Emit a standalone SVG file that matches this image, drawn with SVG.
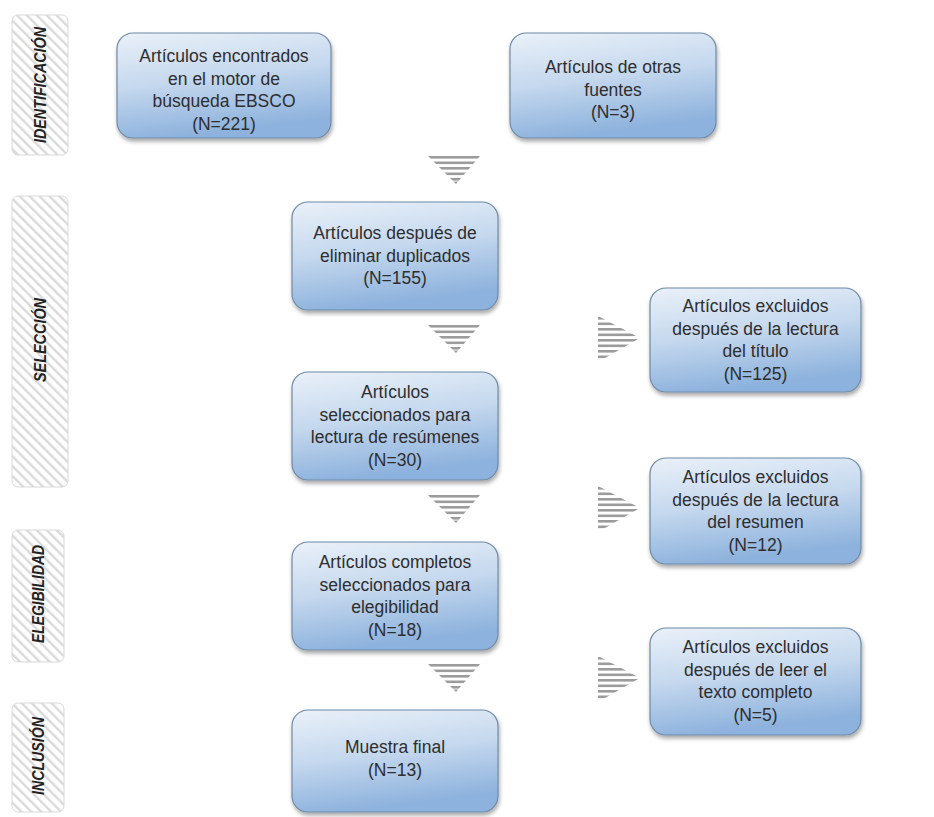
<svg xmlns="http://www.w3.org/2000/svg" width="934" height="817" viewBox="0 0 934 817">
<style>
.box{fill:url(#bg);stroke:#6f8aa6;stroke-width:1.2;filter:url(#sh)}
.t{font-family:"Liberation Sans",Arial,sans-serif;font-size:17.5px;fill:#2e2e2e;text-anchor:middle}
.side{fill:url(#hatch);stroke:#d9d9d9;stroke-width:1}
.st{font-family:"Liberation Sans Narrow","Liberation Sans",Arial,sans-serif;font-size:17px;font-weight:bold;font-style:italic;fill:#222;text-anchor:middle}
.stripe{fill:#9c9c9c}
</style>
<defs>
<linearGradient id="bg" x1="0" y1="0" x2="0.25" y2="1">
<stop offset="0" stop-color="#eaf1f9"/>
<stop offset="0.5" stop-color="#c5d8ee"/>
<stop offset="1" stop-color="#8db2dd"/>
</linearGradient>
<filter id="sh" x="-10%" y="-10%" width="125%" height="130%">
<feGaussianBlur in="SourceAlpha" stdDeviation="2"/>
<feOffset dx="1" dy="3" result="b"/>
<feComponentTransfer><feFuncA type="linear" slope="0.35"/></feComponentTransfer>
<feMerge><feMergeNode/><feMergeNode in="SourceGraphic"/></feMerge>
</filter>
<pattern id="hatch" patternUnits="userSpaceOnUse" width="7" height="7" patternTransform="rotate(-45)">
<rect width="7" height="7" fill="#ffffff"/>
<rect width="2.4" height="7" fill="#dadada"/>
</pattern>
<clipPath id="dtri"><polygon points="0,0 52,0 28,28"/></clipPath>
<clipPath id="rtri"><polygon points="0,0 42,22 0,46"/></clipPath>
<g id="down">
<g clip-path="url(#dtri)">
<rect class="stripe" x="0" y="0" width="52" height="2.6"/>
<rect class="stripe" x="0" y="5.5" width="52" height="2.6"/>
<rect class="stripe" x="0" y="11" width="52" height="2.6"/>
<rect class="stripe" x="0" y="16.5" width="52" height="2.6"/>
<rect class="stripe" x="0" y="22" width="52" height="2.6"/>
<rect class="stripe" x="0" y="25.5" width="52" height="3"/>
</g>
</g>
<g id="right">
<g clip-path="url(#rtri)">
<rect class="stripe" x="0" y="1" width="42" height="2.6"/>
<rect class="stripe" x="0" y="6.5" width="42" height="2.6"/>
<rect class="stripe" x="0" y="12" width="42" height="2.6"/>
<rect class="stripe" x="0" y="17.5" width="42" height="2.6"/>
<rect class="stripe" x="0" y="23" width="42" height="2.6"/>
<rect class="stripe" x="0" y="28.5" width="42" height="2.6"/>
<rect class="stripe" x="0" y="34" width="42" height="2.6"/>
<rect class="stripe" x="0" y="39.5" width="42" height="2.6"/>
</g>
</g>
</defs>

<g id="phases">
<g id="phase-identificacion">
<rect class="side" x="12" y="15" width="56" height="140" rx="6"/>
<text class="st" transform="translate(46,85) rotate(-90)" textLength="116" lengthAdjust="spacingAndGlyphs">IDENTIFICACIÓN</text>
</g>
<g id="phase-seleccion">
<rect class="side" x="12" y="196" width="56" height="291" rx="6"/>
<text class="st" transform="translate(46,340) rotate(-90)" textLength="84" lengthAdjust="spacingAndGlyphs">SELECCIÓN</text>
</g>
<g id="phase-elegibilidad">
<rect class="side" x="12" y="530" width="52" height="132" rx="6"/>
<text class="st" transform="translate(44,594) rotate(-90)" textLength="98" lengthAdjust="spacingAndGlyphs">ELEGIBILIDAD</text>
</g>
<g id="phase-inclusion">
<rect class="side" x="12" y="703" width="52" height="109" rx="6"/>
<text class="st" transform="translate(44,756) rotate(-90)" textLength="78" lengthAdjust="spacingAndGlyphs">INCLUSIÓN</text>
</g>
</g>

<g id="connectors">
<use href="#down" x="428" y="156"/>
<use href="#down" x="428" y="325"/>
<use href="#down" x="428" y="495"/>
<use href="#down" x="428" y="664"/>
<use href="#right" x="598" y="316"/>
<use href="#right" x="598" y="486"/>
<use href="#right" x="598" y="656"/>
</g>

<g id="n1">
<rect class="box" x="117" y="33" width="214" height="105" rx="16"/>
<text class="t" x="224"><tspan x="224" y="62">Artículos encontrados</tspan><tspan x="224" y="84.5">en el motor de</tspan><tspan x="224" y="107">búsqueda EBSCO</tspan><tspan x="224" y="129.5">(N=221)</tspan></text>
</g>
<g id="n2">
<rect class="box" x="510" y="33" width="206" height="105" rx="16"/>
<text class="t"><tspan x="613" y="73">Artículos de otras</tspan><tspan x="613" y="95.5">fuentes</tspan><tspan x="613" y="118">(N=3)</tspan></text>
</g>
<g id="n3">
<rect class="box" x="292" y="202" width="206" height="108" rx="16"/>
<text class="t"><tspan x="395" y="239">Artículos después de</tspan><tspan x="395" y="261.5">eliminar duplicados</tspan><tspan x="395" y="284">(N=155)</tspan></text>
</g>
<g id="n4">
<rect class="box" x="292" y="372" width="206" height="108" rx="16"/>
<text class="t"><tspan x="395" y="398">Artículos</tspan><tspan x="395" y="420.5">seleccionados para</tspan><tspan x="395" y="443">lectura de resúmenes</tspan><tspan x="395" y="465.5">(N=30)</tspan></text>
</g>
<g id="n5">
<rect class="box" x="292" y="542" width="206" height="108" rx="16"/>
<text class="t"><tspan x="395" y="568">Artículos completos</tspan><tspan x="395" y="590.5">seleccionados para</tspan><tspan x="395" y="613">elegibilidad</tspan><tspan x="395" y="635.5">(N=18)</tspan></text>
</g>
<g id="n6">
<rect class="box" x="292" y="710" width="206" height="102" rx="16"/>
<text class="t"><tspan x="395" y="753">Muestra final</tspan><tspan x="395" y="775.5">(N=13)</tspan></text>
</g>
<g id="r1">
<rect class="box" x="650" y="288" width="211" height="104" rx="16"/>
<text class="t"><tspan x="755.5" y="312">Artículos excluidos</tspan><tspan x="755.5" y="334.5">después de la lectura</tspan><tspan x="755.5" y="357">del título</tspan><tspan x="755.5" y="379.5">(N=125)</tspan></text>
</g>
<g id="r2">
<rect class="box" x="650" y="458" width="211" height="106" rx="16"/>
<text class="t"><tspan x="755.5" y="483">Artículos excluidos</tspan><tspan x="755.5" y="505.5">después de la lectura</tspan><tspan x="755.5" y="528">del resumen</tspan><tspan x="755.5" y="550.5">(N=12)</tspan></text>
</g>
<g id="r3">
<rect class="box" x="650" y="628" width="211" height="107" rx="16"/>
<text class="t"><tspan x="755.5" y="653">Artículos excluidos</tspan><tspan x="755.5" y="675.5">después de leer el</tspan><tspan x="755.5" y="698">texto completo</tspan><tspan x="755.5" y="720.5">(N=5)</tspan></text>
</g>
</svg>
